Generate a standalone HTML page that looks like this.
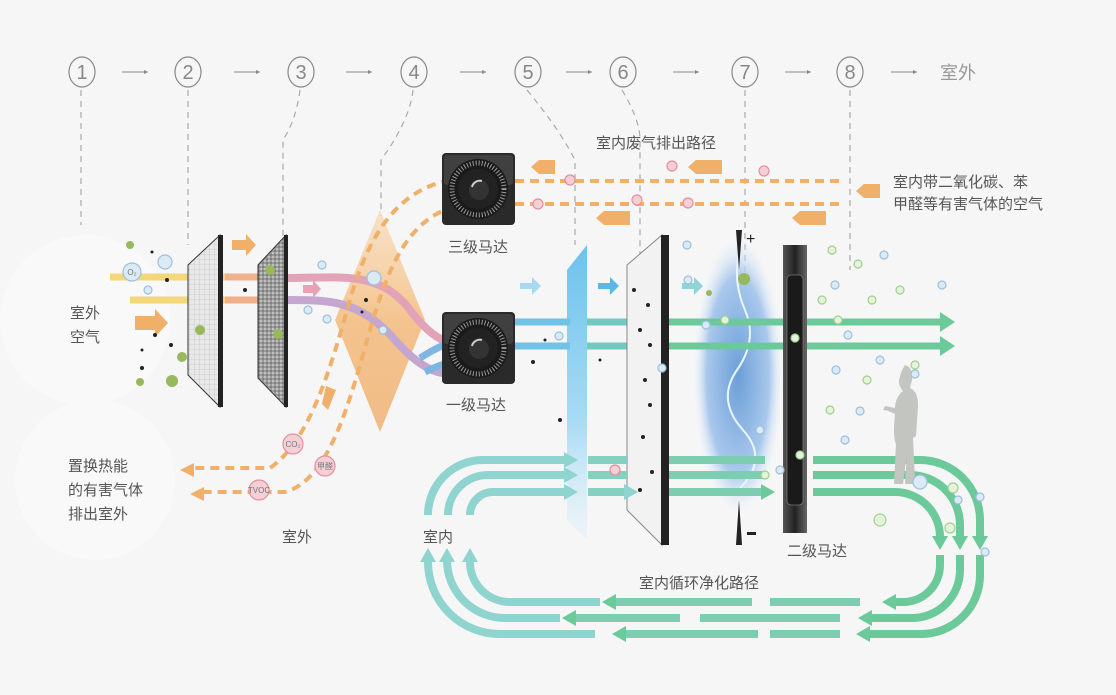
<!DOCTYPE html>
<html><head><meta charset="utf-8"><style>
html,body{margin:0;padding:0;background:#f6f6f7;}
svg{display:block;}
text{font-family:"Liberation Sans","Noto Sans CJK SC",sans-serif;}
</style></head><body>
<svg width="1116" height="695" viewBox="0 0 1116 695" xmlns="http://www.w3.org/2000/svg">
<defs>
<linearGradient id="dia" x1="0" y1="0" x2="0" y2="1">
<stop offset="0" stop-color="#f7d4a8" stop-opacity="0.6"/><stop offset="0.5" stop-color="#f4c48e"/><stop offset="1" stop-color="#f0b57a" stop-opacity="0.9"/></linearGradient>
<linearGradient id="blueF" x1="0" y1="0" x2="0" y2="1">
<stop offset="0" stop-color="#6cc2ec"/><stop offset="0.6" stop-color="#a8dbf4"/><stop offset="1" stop-color="#d8eef9" stop-opacity="0.3"/></linearGradient>
<radialGradient id="ion" cx="0.5" cy="0.5" r="0.5">
<stop offset="0" stop-color="#6b9fd8"/><stop offset="0.7" stop-color="#a9c8ec"/><stop offset="1" stop-color="#e8f0fa" stop-opacity="0"/></radialGradient>
<linearGradient id="motor" x1="0" y1="0" x2="1" y2="0">
<stop offset="0" stop-color="#555"/><stop offset="0.5" stop-color="#222"/><stop offset="1" stop-color="#666"/></linearGradient>
<pattern id="grid" width="5" height="5" patternUnits="userSpaceOnUse"><rect width="5" height="5" fill="#e8e8e8"/><path d="M5 0V5M0 5H5" stroke="#b8b8b8" stroke-width="0.6"/></pattern>
<pattern id="spk" width="4" height="4" patternUnits="userSpaceOnUse"><rect width="4" height="4" fill="#9a9a9a"/><circle cx="1" cy="1" r="0.8" fill="#eee"/><circle cx="3" cy="3" r="0.6" fill="#444"/></pattern>
<marker id="ag" markerWidth="14" markerHeight="16" refX="4" refY="8" orient="auto" markerUnits="userSpaceOnUse"><path d="M0,0 L14,8 L0,16Z" fill="#6cc99a"/></marker>
<marker id="at" markerWidth="14" markerHeight="16" refX="4" refY="8" orient="auto" markerUnits="userSpaceOnUse"><path d="M0,0 L14,8 L0,16Z" fill="#8fd4cf"/></marker>
<marker id="ab" markerWidth="10" markerHeight="12" refX="3" refY="6" orient="auto" markerUnits="userSpaceOnUse"><path d="M0,0 L10,6 L0,12Z" fill="#7fb6e0"/></marker>
<g id="fan"><rect x="0" y="0" width="73" height="72" rx="4" fill="#2a2a2a"/><rect x="2" y="2" width="69" height="30" rx="3" fill="#555" opacity="0.5"/><circle cx="36" cy="36" r="30" fill="#1a1a1a"/><circle cx="36" cy="36" r="26" fill="none" stroke="#999" stroke-width="5" stroke-dasharray="1 2"/><circle cx="36" cy="36" r="20" fill="#222"/><circle cx="37" cy="37" r="10" fill="#333"/><path d="M30 34a8 8 0 0 1 10-6" stroke="#ccc" stroke-width="2" fill="none"/></g>
</defs>

<!-- top sequence -->
<g fill="none" stroke="#888" stroke-width="1.2">
<ellipse cx="82" cy="72" rx="13" ry="15"/><ellipse cx="188" cy="72" rx="13" ry="15"/><ellipse cx="301" cy="72" rx="13" ry="15"/><ellipse cx="414" cy="72" rx="13" ry="15"/><ellipse cx="528" cy="72" rx="13" ry="15"/><ellipse cx="623" cy="72" rx="13" ry="15"/><ellipse cx="745" cy="72" rx="13" ry="15"/><ellipse cx="850" cy="72" rx="13" ry="15"/>
</g>
<g fill="#888" font-size="20" text-anchor="middle">
<text x="82" y="79">1</text><text x="188" y="79">2</text><text x="301" y="79">3</text><text x="414" y="79">4</text><text x="528" y="79">5</text><text x="623" y="79">6</text><text x="745" y="79">7</text><text x="850" y="79">8</text>
</g>
<g stroke="#888" stroke-width="1">
<path d="M122 72h26M234 72h26M346 72h26M460 72h26M566 72h26M673 72h26M785 72h26M891 72h26"/>
</g>
<g fill="#888"><path d="M148 72l-4-2v4z"/><path d="M260 72l-4-2v4z"/><path d="M372 72l-4-2v4z"/><path d="M486 72l-4-2v4z"/><path d="M592 72l-4-2v4z"/><path d="M699 72l-4-2v4z"/><path d="M811 72l-4-2v4z"/><path d="M917 72l-4-2v4z"/></g>
<text x="940" y="79" font-size="18" fill="#999">室外</text>

<!-- leader lines -->
<g fill="none" stroke="#aaa" stroke-width="1.2" stroke-dasharray="6 5">
<path d="M81 90V225"/><path d="M188 90V245"/><path d="M300 90Q296 120 283 140V240"/><path d="M413 90Q410 120 381 160V212"/><path d="M527 90Q560 130 575 160V245"/><path d="M622 90Q640 120 640 140V280"/><path d="M745 90V280"/><path d="M850 90V270"/>
</g>

<!-- left white blobs -->
<circle cx="85" cy="320" r="85" fill="#f9f9f9"/>
<circle cx="95" cy="480" r="80" fill="#f9f9f9"/>

<!-- diamond -->
<path d="M380 210L425 320L380 432L335 320Z" fill="url(#dia)"/>

<!-- intake bars -->
<path d="M110 277H225" stroke="#f3d77a" stroke-width="7"/><path d="M130 300H225" stroke="#f3d77a" stroke-width="7"/>
<path d="M225 277H280M225 300H280" stroke="#f0b08a" stroke-width="7"/>
<path d="M288 278C340 278 380 270 410 310S460 345 478 345" stroke="#e2a3b8" stroke-width="8" fill="none"/>
<path d="M288 300C330 300 360 300 395 340S450 375 470 372" stroke="#c4a6d0" stroke-width="8" fill="none"/>
<path d="M420 358Q440 345 462 338" stroke="#7fb6e0" stroke-width="7" fill="none" marker-end="url(#ab)"/>
<path d="M425 372Q445 362 462 360" stroke="#7fb6e0" stroke-width="7" fill="none" marker-end="url(#ab)"/>

<!-- orange arrows -->
<g fill="#f0b06a">
<path d="M232 240h14v-6l10 11-10 11v-6h-14z"/>
<path d="M135 316h20v-7l13 14-13 14v-7h-20z"/>
<path d="M303 285h10v-5l8 9-8 9v-5h-10z" fill="#e8a2b6"/>
<path d="M555 160v14h-16l-8-7 8-7z"/>
<path d="M722 160v14h-26l-8-7 8-7z"/>
<path d="M630 211v14h-26l-8-7 8-7z"/>
<path d="M826 211v14h-26l-8-7 8-7z"/>
<path d="M880 184v14h-16l-8-7 8-7z"/>
<path d="M326 386l10 4-8 20-6-6z"/>
</g>
<g fill="none" stroke="#f0b06a" stroke-width="4" stroke-dasharray="9 6">
<path d="M515 181H840"/><path d="M515 204H840"/>
<path d="M450 180C400 190 370 230 350 300S310 440 270 468H190"/>
<path d="M455 206C410 220 390 260 370 330S330 480 285 492H200"/>
</g>
<path d="M180 470l14-7v14z" fill="#f0b06a"/><path d="M190 494l14-7v14z" fill="#f0b06a"/>

<!-- filters 1,2 -->
<path d="M188 265L220 235V407L188 375Z" fill="url(#grid)" stroke="#333"/>
<rect x="218" y="235" width="5" height="172" fill="#222"/>
<path d="M258 265L286 235V407L258 378Z" fill="url(#spk)" stroke="#333"/>
<rect x="284" y="235" width="4" height="172" fill="#222"/>

<!-- fans -->
<use href="#fan" x="442" y="153"/>
<use href="#fan" x="442" y="312"/>

<!-- blue filter -->
<path d="M567 270L587 245V540L567 520Z" fill="url(#blueF)"/>
<path d="M515 322H570M515 346H570" stroke="#6fc3e4" stroke-width="7"/>
<path d="M587 322H630M587 346H630" stroke="#73c8c0" stroke-width="7"/>
<path d="M520 283h12v-6l9 9-9 9v-6h-12z" fill="#a8d9f0"/>
<path d="M598 283h12v-6l9 9-9 9v-6h-12z" fill="#5ab7e6"/>
<path d="M682 283h12v-6l9 9-9 9v-6h-12z" fill="#8fd4d8"/>

<!-- filter 6 -->
<path d="M627 265L662 235V545L627 510Z" fill="#f2f2f2" stroke="#888"/>
<rect x="661" y="235" width="8" height="310" fill="#222"/>

<!-- ion region -->
<ellipse cx="738" cy="375" rx="45" ry="140" fill="url(#ion)"/>
<path d="M740 250q-8 30 5 60t-8 60 6 60-5 60" stroke="#e8f6ff" stroke-width="2" fill="none"/>
<path d="M736 230l3 40 3-40z" fill="#222"/><path d="M736 545l3-45 3 45z" fill="#222"/>
<text x="746" y="244" font-size="16" fill="#222">+</text>
<rect x="747" y="532" width="9" height="3" fill="#222"/>

<!-- green bars through -->
<path d="M669 322H940M669 346H940" stroke="#6cc99a" stroke-width="7"/>
<path d="M940 312l15 10-15 10zM940 336l15 10-15 10z" fill="#6cc99a"/>

<!-- second motor -->
<rect x="783" y="245" width="24" height="288" fill="url(#motor)"/>
<rect x="787" y="275" width="16" height="230" rx="4" fill="#1a1a1a" stroke="#777" stroke-width="0.8"/>

<!-- circulation -->
<g fill="none" stroke-width="8">
<path d="M428 515A55 55 0 0 1 483 460H568" stroke="#8fd4cf" marker-end="url(#at)"/>
<path d="M448 515A40 40 0 0 1 488 475H568" stroke="#8fd4cf" marker-end="url(#at)"/>
<path d="M470 515A23 23 0 0 1 493 492H568" stroke="#8fd4cf" marker-end="url(#at)"/>
<path d="M588 460H628M588 475H628M588 492H628" stroke="#86d0c0" marker-end="url(#at)"/>
<path d="M669 460H765M669 475H765M669 492H765" stroke="#7dcdb0" marker-end="url(#ag)"/>
<path d="M813 460H920A60 60 0 0 1 980 520V540" stroke="#6cc99a" marker-end="url(#ag)"/>
<path d="M813 475H910A50 50 0 0 1 960 525V540" stroke="#6cc99a" marker-end="url(#ag)"/>
<path d="M813 492H895A45 45 0 0 1 940 537V540" stroke="#6cc99a" marker-end="url(#ag)"/>
<path d="M940 555V565A37 37 0 0 1 903 602H892" stroke="#6cc99a" marker-end="url(#ag)"/>
<path d="M960 555V570A48 48 0 0 1 912 618H868" stroke="#6cc99a" marker-end="url(#ag)"/>
<path d="M980 555V575A59 59 0 0 1 921 634H866" stroke="#6cc99a" marker-end="url(#ag)"/>
<path d="M860 602H770" stroke="#7dcdb0"/><path d="M752 602H612" stroke="#7dcdb0" marker-end="url(#ag)"/>
<path d="M840 618H700" stroke="#7dcdb0"/><path d="M680 618H572" stroke="#7dcdb0" marker-end="url(#ag)"/>
<path d="M840 634H770" stroke="#7dcdb0"/><path d="M758 634H622" stroke="#7dcdb0" marker-end="url(#ag)"/>
<path d="M600 602H510A40 40 0 0 1 470 562V558" stroke="#8fd4cf" marker-end="url(#at)"/>
<path d="M560 618H505A58 58 0 0 1 447 560V558" stroke="#8fd4cf" marker-end="url(#at)"/>
<path d="M595 634H500A72 72 0 0 1 428 562V558" stroke="#8fd4cf" marker-end="url(#at)"/>
</g>

<!-- person -->
<path d="M903 365c8 0 10 8 9 15l-2 8c6 3 8 8 8 18l-2 30-3 2 2 40c0 3 2 5 4 6h-14l2-30-4 30h-9l2-40c-3-6-2-20-1-30-4-2-8-4-12-4l2-4 10 2c0-8 4-14 8-17-4-4-5-10-3-14 1-6 5-12 5-12z" fill="#c3c6c0"/>

<!-- bubbles -->
<g fill="#dbeaf5" stroke="#9cc0dc" stroke-width="1.2">
<circle cx="132" cy="272" r="9"/><circle cx="165" cy="262" r="7"/><circle cx="148" cy="290" r="4"/><circle cx="322" cy="265" r="4"/><circle cx="374" cy="278" r="7"/><circle cx="308" cy="310" r="4"/><circle cx="327" cy="319" r="4"/><circle cx="383" cy="330" r="4"/><circle cx="559" cy="336" r="4"/><circle cx="662" cy="368" r="4"/><circle cx="687" cy="245" r="4"/><circle cx="688" cy="280" r="4"/><circle cx="706" cy="325" r="4"/><circle cx="760" cy="430" r="4"/><circle cx="780" cy="470" r="4"/><circle cx="835" cy="285" r="4"/><circle cx="884" cy="255" r="4"/><circle cx="942" cy="285" r="4"/><circle cx="848" cy="335" r="4"/><circle cx="880" cy="360" r="4"/><circle cx="915" cy="374" r="4"/><circle cx="860" cy="411" r="4"/><circle cx="958" cy="500" r="4"/><circle cx="985" cy="552" r="4"/><circle cx="920" cy="482" r="7"/><circle cx="836" cy="370" r="4"/><circle cx="845" cy="440" r="4"/><circle cx="980" cy="497" r="4"/>
</g>
<g fill="#e6f3dc" stroke="#9fd08a" stroke-width="1.2">
<circle cx="832" cy="250" r="4"/><circle cx="858" cy="264" r="4"/><circle cx="872" cy="300" r="4"/><circle cx="900" cy="290" r="4"/><circle cx="822" cy="300" r="4"/><circle cx="838" cy="320" r="4"/><circle cx="915" cy="365" r="4"/><circle cx="867" cy="380" r="4"/><circle cx="830" cy="410" r="4"/><circle cx="880" cy="520" r="6"/><circle cx="953" cy="488" r="5"/><circle cx="950" cy="528" r="5"/><circle cx="795" cy="338" r="4"/><circle cx="800" cy="455" r="4"/><circle cx="725" cy="320" r="4"/><circle cx="765" cy="475" r="4"/>
</g>
<g fill="#f4cfd6" stroke="#e58ea0" stroke-width="1.2">
<circle cx="293" cy="444" r="10"/><circle cx="325" cy="466" r="10"/><circle cx="259" cy="490" r="10"/><circle cx="672" cy="166" r="5"/><circle cx="764" cy="171" r="5"/><circle cx="538" cy="204" r="5"/><circle cx="637" cy="200" r="5"/><circle cx="688" cy="203" r="5"/><circle cx="570" cy="180" r="5"/><circle cx="615" cy="470" r="5"/>
</g>
<g font-size="8" fill="#777" text-anchor="middle"><text x="293" y="447">CO₂</text><text x="325" y="469">甲醛</text><text x="259" y="493">TVOC</text><text x="132" y="275">O₂</text></g>
<g fill="#222">
<circle cx="152" cy="252" r="1.5"/><circle cx="167" cy="280" r="2"/><circle cx="155" cy="335" r="2"/><circle cx="171" cy="345" r="2"/><circle cx="142" cy="350" r="1.5"/><circle cx="142" cy="368" r="2"/><circle cx="245" cy="290" r="2"/><circle cx="366" cy="300" r="2"/><circle cx="362" cy="312" r="1.5"/><circle cx="533" cy="362" r="2"/><circle cx="545" cy="340" r="1.5"/><circle cx="560" cy="420" r="2"/><circle cx="600" cy="360" r="1.5"/><circle cx="634" cy="290" r="2"/><circle cx="648" cy="305" r="2"/><circle cx="640" cy="330" r="2"/><circle cx="650" cy="345" r="2"/><circle cx="645" cy="380" r="2"/><circle cx="650" cy="405" r="2"/><circle cx="643" cy="437" r="2"/><circle cx="652" cy="472" r="2"/><circle cx="640" cy="490" r="2"/>
</g>
<g fill="#98b85c"><circle cx="200" cy="330" r="5"/><circle cx="172" cy="381" r="6"/><circle cx="140" cy="382" r="4"/><circle cx="130" cy="245" r="4"/><circle cx="182" cy="357" r="5"/><circle cx="270" cy="270" r="5"/><circle cx="278" cy="334" r="5"/><circle cx="744" cy="279" r="6"/><circle cx="709" cy="293" r="3"/></g>

<!-- labels -->
<g font-size="15" fill="#555">
<text x="70" y="318">室外</text><text x="70" y="342">空气</text>
<text x="68" y="471">置换热能</text><text x="68" y="495">的有害气体</text><text x="68" y="519">排出室外</text>
<text x="282" y="542">室外</text><text x="423" y="542">室内</text>
<text x="448" y="252">三级马达</text><text x="446" y="410">一级马达</text>
<text x="596" y="148">室内废气排出路径</text>
<text x="893" y="187">室内带二氧化碳、苯</text><text x="893" y="209">甲醛等有害气体的空气</text>
<text x="787" y="556">二级马达</text>
<text x="639" y="588">室内循环净化路径</text>
</g>
</svg>
</body></html>
